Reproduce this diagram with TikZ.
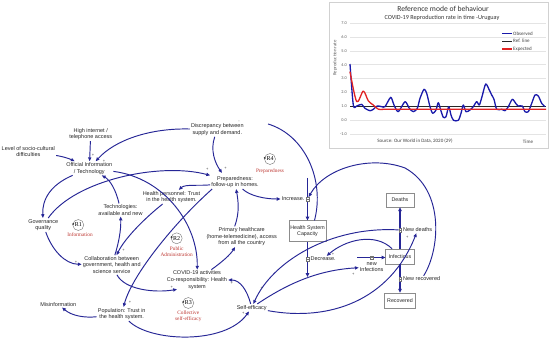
\documentclass[tikz,border=0pt]{standalone}
\usepackage{fontspec}
\setmainfont{Liberation Sans}
\newfontfamily\serifr{Liberation Serif}
\newfontfamily\chartf{Carlito}
\usetikzlibrary{arrows.meta,calc}
\definecolor{arrowc}{RGB}{38,38,150}
\definecolor{loopred}{RGB}{190,55,50}
\definecolor{obsblue}{RGB}{25,25,170}
\definecolor{expred}{RGB}{225,35,35}
\definecolor{gridc}{RGB}{228,228,228}
\definecolor{tickc}{RGB}{95,95,95}
\begin{document}
\begin{tikzpicture}[x=1pt,y=-1pt,
 lbl/.style={font=\fontsize{5.5}{6.6}\selectfont, align=center, inner sep=1pt, text=black!85},
 stockbox/.style={draw=black!45, line width=0.5pt, fill=white, font=\fontsize{5.3}{6.6}\selectfont, align=center, inner sep=0.5pt, text=black!85},
 lnk/.style={draw=arrowc, line width=0.95pt, -{Triangle[length=3.8pt,width=3.2pt]}},
 plainlnk/.style={draw=arrowc, line width=0.95pt},
 flowarr/.style={draw=arrowc, line width=1.1pt, -{Triangle[length=3.8pt,width=3.4pt]}},
 valve/.style={draw=black!55, fill=white, line width=0.3pt, minimum width=2.6pt, minimum height=3.6pt, inner sep=0, path picture={\draw[black!55,line width=0.25pt] (path picture bounding box.west) -- (path picture bounding box.east);}},
 sgn/.style={font=\fontsize{4}{4}\selectfont, text=black!75, inner sep=0},
 loopsym/.style={circle, draw=black!55, line width=0.4pt, minimum size=11pt, inner sep=0, font=\serifr\fontsize{6}{6}\selectfont},
 loopnm/.style={font=\serifr\fontsize{5.3}{5.8}\selectfont, text=loopred, align=center, inner sep=0},
 ctick/.style={font=\chartf\fontsize{4.3}{4.5}\selectfont, text=tickc, inner sep=0.5pt},
 cleg/.style={font=\chartf\fontsize{5}{5.5}\selectfont, text=black!75, inner sep=0.5pt}
]
\fill[white] (0,0) rectangle (550,345);
\useasboundingbox (0,0) rectangle (550,345);

% ---------- chart ----------
\draw[draw=black!18, line width=0.5pt, fill=white] (329,2) rectangle (548,148);
\node[font=\chartf\fontsize{7.6}{8}\selectfont, text=black!80] (ctitle) at (443,8.5) {Reference mode of behaviour};
\node[font=\chartf\fontsize{6.2}{7}\selectfont, text=black!80] (csub) at (442,18.3) {COVID-19 Reproduction rate in time -Uruguay};
\foreach \v in {-1,...,7} {
  \draw[gridc, line width=0.4pt] (350,{120.3-13.9*\v}) -- (546,{120.3-13.9*\v});
  \node[ctick, anchor=east] (tk\v) at (347.5,{120.3-13.9*\v}) {\v.0};
}
\node[rotate=90, font=\chartf\fontsize{4.8}{5}\selectfont, text=tickc] (ylab) at (335,58) {Reproduction rate};
\begin{scope}[shift={(0,120.3)}, yscale=-13.9]
  \draw[black!85, line width=0.9pt] (350,1) -- (546,1);
  \draw[obsblue, line width=1.3pt, line join=round] plot[smooth, tension=0.45] coordinates {
   (350,4.05) (353.3,1.10) (356.7,1.03) (361.7,1.15) (365,0.86) (370,0.69) (373.3,0.79)
   (377.3,1.03) (381.7,0.98) (385,0.98) (390.7,1.65) (394,1.10) (398.3,0.62) (405,1.34)
   (409.3,0.86) (413.3,0.62) (417.3,0.86) (420,1.58) (424,2.23) (426.7,1.94) (430,0.98)
   (432.7,0.50) (436,0.74) (438.3,1.27) (440.7,0.74) (443.3,0.22) (446,0.26) (448.7,0.98)
   (451,0.38) (453.5,0.0) (458.3,0.0) (461,0.5) (463.3,1.1) (466,0.62) (470,0.74)
   (473.3,0.98) (476.7,1.34) (479.3,1.1) (482,1.7) (485.7,2.61) (489.3,2.18) (491.7,1.82)
   (494,1.51) (496.7,0.79) (501.7,0.79) (505,0.69) (508.3,0.98) (512.3,1.51) (515.7,1.22)
   (518.3,1.03) (522.3,1.03) (525,0.62) (528.3,0.62) (531.7,1.22) (535,1.82) (538.3,1.75)
   (541.7,1.22) (545,0.98)};
  \draw[expred, line width=1.3pt, line join=round] plot[smooth, tension=0.5] coordinates {
   (350,3.5) (356.7,1.34) (363.3,2.1) (368.3,1.4) (373.3,1.1) (378.3,0.8) (385,0.8)} -- (546,0.8);
\end{scope}
\draw[obsblue, line width=1.3pt] (502,33.3) -- (512,33.3);
\node[cleg, anchor=west] (lg1) at (512.5,33.3) {Observed};
\draw[black!85, line width=0.9pt] (502,41) -- (512,41);
\node[cleg, anchor=west] (lg2) at (512.5,41) {Ref. line};
\draw[expred, line width=1.3pt] (502,49) -- (512,49);
\node[cleg, anchor=west] (lg3) at (512.5,49) {Expected};
\node[cleg] (csrc) at (415,141.5) {Source: Our World in Data, 2020 (29)};
\node[cleg] (ctime) at (528,141.5) {Time};

% ---------- variables ----------
\node[lbl] (hia) at (90.7,134) {High internet /\\telephone access};
\node[lbl] (lsc) at (28.3,151.7) {Level of socio-cultural\\difficulties};
\node[lbl] (oit) at (89.3,168.3) {Official Information\\/ Technology};
\node[lbl] (dsd) at (217.3,129.7) {Discrepancy between\\supply and demand.};
\node[lbl] (tan) at (120.5,210) {Technologies:\\available and new};
\node[lbl] (hpt) at (171.5,197) {Health personnel: Trust\\in the health system.};
\node[lbl] (prep) at (235,182) {Preparedness:\\follow-up in homes.};
\node[lbl] (gq) at (43.3,225) {Governance\\quality};
\node[lbl] (collab) at (111.7,265) {Collaboration between\\government, health and\\science service};
\node[lbl] (phc) at (241.7,236.7) {Primary healthcare\\(home-telemedicine), access\\from all the country};
\node[lbl] (covid) at (197,280) {COVID-19 activities\\Co-responsibility: Health\\system};
\node[lbl] (misinfo) at (58.3,304.3) {Misinformation};
\node[lbl] (pop) at (121.7,314) {Population: Trust in\\the health system.};
\node[lbl] (se) at (251.7,307.7) {Self-efficacy};

% ---------- stocks ----------
\node[stockbox, minimum width=37pt, minimum height=21pt] (hsc) at (307.5,231.2) {Health System\\Capacity};
\node[stockbox, minimum width=28pt, minimum height=14pt] (deaths) at (400,200) {Deaths};
\node[stockbox, minimum width=28.6pt, minimum height=15pt] (inf) at (400,256.5) {Infectious};
\node[stockbox, minimum width=31pt, minimum height=15pt] (rec) at (400,300.5) {Recovered};

% ---------- flows ----------
\coordinate (incsrc) at (307.5,178);
\coordinate (decsnk) at (307.5,277);
\coordinate (nisrc) at (357,257.5);
\draw[flowarr] (incsrc) -- (hsc.north);
\draw[flowarr] (hsc.south) -- (decsnk);
\draw[flowarr] (nisrc) -- (inf.west |- nisrc);
\draw[flowarr] (inf.north) -- (deaths.south);
\draw[flowarr] (inf.south) -- (rec.north);
\node[valve] (incv) at (307.5,199) {};
\node[valve] (decv) at (307.5,259) {};
\node[valve] (niv) at (371.7,257.5) {};
\node[valve] (ndv) at (400,230) {};
\node[valve] (nrv) at (400,279) {};
\node[lbl, anchor=east] (inc) at ([xshift=-0.5pt]incv.west) {Increase.};
\node[lbl, anchor=west] (dec) at ([xshift=0.5pt]decv.east) {Decrease.};
\node[lbl, anchor=north] (ni) at ([yshift=-1.5pt]niv.south) {new\\Infections};
\node[lbl, anchor=west] (nd) at ([xshift=0.5pt]ndv.east) {New deaths};
\node[lbl, anchor=west] (nr) at ([xshift=0.5pt]nrv.east) {New recovered};

% ---------- links ----------
\draw[lnk] (hia) -- (oit);
\draw[lnk] (lsc) .. controls (60,156) and (68,158) .. (oit);
\draw[lnk] (dsd) .. controls (150,128) and (115,140) .. (oit);
\draw[lnk] (oit) .. controls (50,185) and (42,200) .. (gq);
\draw[lnk] (oit) .. controls (165,178) and (198,225) .. (covid);
\draw[lnk] (tan) .. controls (116,190) and (110,180) .. (oit);
\draw[lnk] (gq) .. controls (75,180) and (160,162) .. (prep);
\draw[lnk] (prep) .. controls (200,186) and (185,184) .. (hpt);
\draw[lnk] (hpt) .. controls (145,218) and (125,238) .. (collab);
\draw[lnk] (collab) .. controls (119,242) and (121,230) .. (tan);
\draw[lnk] (gq) .. controls (52,250) and (65,264) .. (collab);
\draw[lnk] (collab) .. controls (125,290) and (155,293) .. ($(covid.south)+(-20,-1)$);
\draw[lnk] ($(prep.south west)+(2,0)$) .. controls (175,222) and (132,275) .. (pop);
\draw[lnk] (pop) .. controls (85,318) and (72,316) .. (misinfo);
\draw[lnk] (pop) .. controls (150,342) and (225,345) .. (se);
\draw[lnk] (se) .. controls (247,290) and (240,280) .. (covid);
\draw[lnk] (covid) .. controls (222,262) and (230,255) .. (phc);
\draw[lnk] ($(phc.north)+(-7,0)$) .. controls (240,212) and (238,200) .. (prep);
\draw[lnk] (dsd) .. controls (210,150) and (215,163) .. ($(prep.north)+(-13,-2)$);
\draw[lnk] (prep) .. controls (250,196) and (265,199) .. (inc);
\draw[lnk] ($(nr.north)+(2,0)$) .. controls (440,250) and (445,190) .. (405,168) .. controls (370,155) and (325,168) .. (incv);
\coordinate (dsdend) at (268,124);
\draw[plainlnk] ($(hsc.north)+(7,0)$) .. controls (325,180) and (305,135) .. (dsdend);
\draw[lnk] (inf) .. controls (375,232) and (345,240) .. (dec);
\draw[lnk] (ndv) .. controls (330,226) and (272,262) .. (se);
\draw[lnk] (se) .. controls (330,322) and (390,300) .. (nd);
\draw[lnk] (se) .. controls (290,282) and (320,270) .. (ni);

% ---------- polarity signs ----------
\node[sgn] (s1) at (93,155) {+};
\node[sgn] (s2) at (104,161.5) {+};
\node[sgn] (s3) at (225.5,168) {+};
\node[sgn] (s4) at (207.3,169.3) {+};
\node[sgn] (s5) at (123.5,250.7) {+};
\node[sgn] (s6) at (76,262) {+};
\node[sgn] (s7) at (171.7,287) {+};
\node[sgn] (s8) at (130,302.7) {+};
\node[sgn] (s9) at (231.7,283) {+};
\node[sgn] (s10) at (261.7,288.3) {+};
\node[sgn] (s11) at (243.3,313.8) {+};
\node[sgn] (s12) at (353.3,274.5) {+};
\node[sgn] (s13) at (333,254) {+};
\node[sgn] (s14) at (407.3,237.5) {+};
\node[sgn] (s15) at (239,122.3) {-};

% ---------- loops ----------
\node[loopsym] (r1) at (78.3,225) {R1};
\node[loopnm] (r1n) at (80,235) {Information};
\node[loopsym] (r2) at (176.7,238.3) {R2};
\node[loopnm] (r2n) at (176.7,252) {Public\\Administration};
\node[loopsym] (r3) at (188.3,303) {R3};
\node[loopnm] (r3n) at (188.3,316) {Collective\\self-efficacy};
\node[loopsym] (r4) at (270,159) {R4};
\node[loopnm] (r4n) at (270,171) {Preparedness};
\foreach \r in {r1,r2,r3,r4}
  \draw[black!75, line width=0.8pt, -{Triangle[length=1.6pt,width=2.2pt]}] (\r.155) -- ++(0,2.6);
\end{tikzpicture}
\end{document}
